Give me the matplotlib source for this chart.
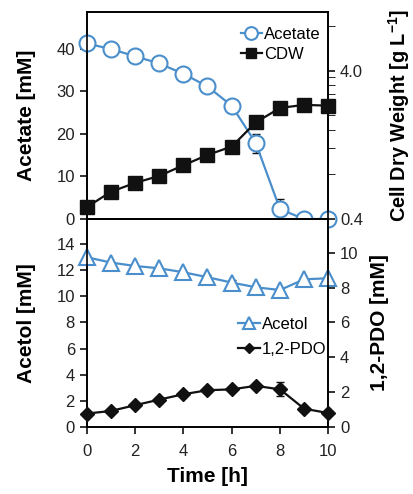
import numpy as np
import matplotlib
matplotlib.use("Agg")
import matplotlib.pyplot as plt
from matplotlib.ticker import FixedLocator, NullFormatter, FixedFormatter

plt.rcParams['font.family'] = ['Liberation Sans', 'DejaVu Sans']
plt.rcParams['mathtext.fontset'] = 'custom'
plt.rcParams['mathtext.rm'] = 'Liberation Sans'
plt.rcParams['mathtext.bf'] = 'Liberation Sans:bold'

# data
time_h = [0, 1, 2, 3, 4, 5, 6, 7, 8, 9, 10]
acetate = [41.2, 39.9, 38.2, 36.5, 34.1, 31.1, 26.6, 17.8, 2.3, 0.0, 0.0]
acetate_err = [0, 1.2, 1.4, 0, 0, 0, 0, 2.2, 2.4, 0, 0]
cdw = [0.48, 0.61, 0.70, 0.78, 0.92, 1.08, 1.23, 1.79, 2.24, 2.35, 2.32]
cdw_err = [0, 0, 0, 0, 0, 0, 0, 0.12, 0, 0, 0]
acetol = [12.98, 12.57, 12.31, 12.13, 11.83, 11.45, 11.04, 10.68, 10.47, 11.29, 11.37]
acetol_err = [0, 0, 0, 0, 0, 0.2, 0.2, 0.15, 0, 0, 0]
pdo = [0.77, 0.92, 1.25, 1.57, 1.88, 2.11, 2.16, 2.36, 2.16, 1.05, 0.80]
pdo_err = [0, 0, 0, 0, 0, 0, 0, 0, 0.4, 0, 0]

blue = '#4a8fcb'
dark = '#111111'
tick_fs = 12
label_fs = 15

fig = plt.figure(figsize=(4.14, 4.94), dpi=100)
ax1 = fig.add_axes([0.2094, 0.5567, 0.5836, 0.42])
ax2 = fig.add_axes([0.2094, 0.1356, 0.5836, 0.4211])
ax1b = ax1.twinx()
ax2b = ax2.twinx()

# top panel
ax1.errorbar(time_h, acetate, yerr=acetate_err, fmt='none', ecolor=dark, elinewidth=1, capsize=3, zorder=1)
l1, = ax1.plot(time_h, acetate, '-o', color=blue, lw=1.6, ms=11.5, mfc='white', mec=blue, mew=1.5,
               clip_on=False, zorder=3, label='Acetate')
ax1b.errorbar(time_h, cdw, yerr=cdw_err, fmt='none', ecolor=dark, elinewidth=1, capsize=3, zorder=1)
l2, = ax1b.plot(time_h, cdw, '-s', color=dark, lw=1.6, ms=9.5, clip_on=False, zorder=3, label='CDW')

ax1.set_xlim(0, 10)
ax1.set_ylim(0, 48.7)
ax1.set_yticks([0, 10, 20, 30, 40])
ax1.set_xticks([0, 2, 4, 6, 8, 10])
ax1.tick_params(axis='x', labelbottom=False, direction='out', length=5)
ax1.tick_params(axis='y', labelsize=tick_fs, direction='out', length=5)
ax1.set_ylabel('Acetate [mM]', fontsize=label_fs, fontweight='bold')
ax1.yaxis.set_label_coords(-0.21, 0.5)

ax1b.set_yscale('log')
ax1b.set_ylim(0.4, 10.0)
ax1b.yaxis.set_major_locator(FixedLocator([0.4, 4.0]))
ax1b.yaxis.set_major_formatter(FixedFormatter(['0.4', '4.0']))
ax1b.yaxis.set_minor_locator(FixedLocator([0.8, 1.2, 1.6, 2.0, 2.4, 2.8, 3.2, 3.6, 8.0]))
ax1b.yaxis.set_minor_formatter(NullFormatter())
ax1b.tick_params(axis='y', which='both', labelsize=tick_fs, direction='out', length=5)
ax1b.set_ylabel('Cell Dry Weight [g L$^{\\mathbf{-1}}$]', fontsize=14.3, fontweight='bold')
ax1b.yaxis.set_label_coords(1.24, 0.5)

ax1b.legend(handles=[l1, l2], loc='upper left', bbox_to_anchor=(0.575, 1.0), frameon=False,
            fontsize=tick_fs, handlelength=1.3, handletextpad=0.1, labelspacing=0.3, markerscale=0.8)

# bottom panel
ax2.errorbar(time_h, acetol, yerr=acetol_err, fmt='none', ecolor=dark, elinewidth=1, capsize=3, zorder=1)
l3, = ax2.plot(time_h, acetol, '-^', color=blue, lw=1.6, ms=11.5, mfc='white', mec=blue, mew=1.5,
               clip_on=False, zorder=3, label='Acetol')
ax2b.errorbar(time_h, pdo, yerr=pdo_err, fmt='none', ecolor=dark, elinewidth=1, capsize=3, zorder=1)
l4, = ax2b.plot(time_h, pdo, '-D', color=dark, lw=1.6, ms=7, clip_on=False, zorder=3, label='1,2-PDO')

ax2.set_xlim(0, 10)
ax2.set_ylim(0, 15.9)
ax2.set_yticks(range(0, 15, 2))
ax2.set_xticks([0, 2, 4, 6, 8, 10])
ax2.tick_params(axis='both', labelsize=tick_fs, direction='out', length=5)
ax2.tick_params(axis='x', pad=7)
ax2.set_ylabel('Acetol [mM]', fontsize=label_fs, fontweight='bold')
ax2.yaxis.set_label_coords(-0.21, 0.5)
ax2.set_xlabel('Time [h]', fontsize=label_fs, fontweight='bold', labelpad=6)

ax2b.set_ylim(0, 11.93)
ax2b.set_yticks(range(0, 11, 2))
ax2b.tick_params(axis='y', labelsize=tick_fs, direction='out', length=5)
ax2b.set_ylabel('1,2-PDO [mM]', fontsize=label_fs, fontweight='bold')
ax2b.yaxis.set_label_coords(1.172, 0.5)

ax2b.legend(handles=[l3, l4], loc='upper left', bbox_to_anchor=(0.565, 0.6), frameon=False,
            fontsize=tick_fs, handlelength=1.3, handletextpad=0.1, labelspacing=0.6, markerscale=0.8)

for a in (ax1, ax1b, ax2, ax2b):
    for s in a.spines.values():
        s.set_linewidth(1.2)
    a.tick_params(width=1.2, colors=dark, labelcolor='#222222')

fig.savefig('out.png', dpi=100)
